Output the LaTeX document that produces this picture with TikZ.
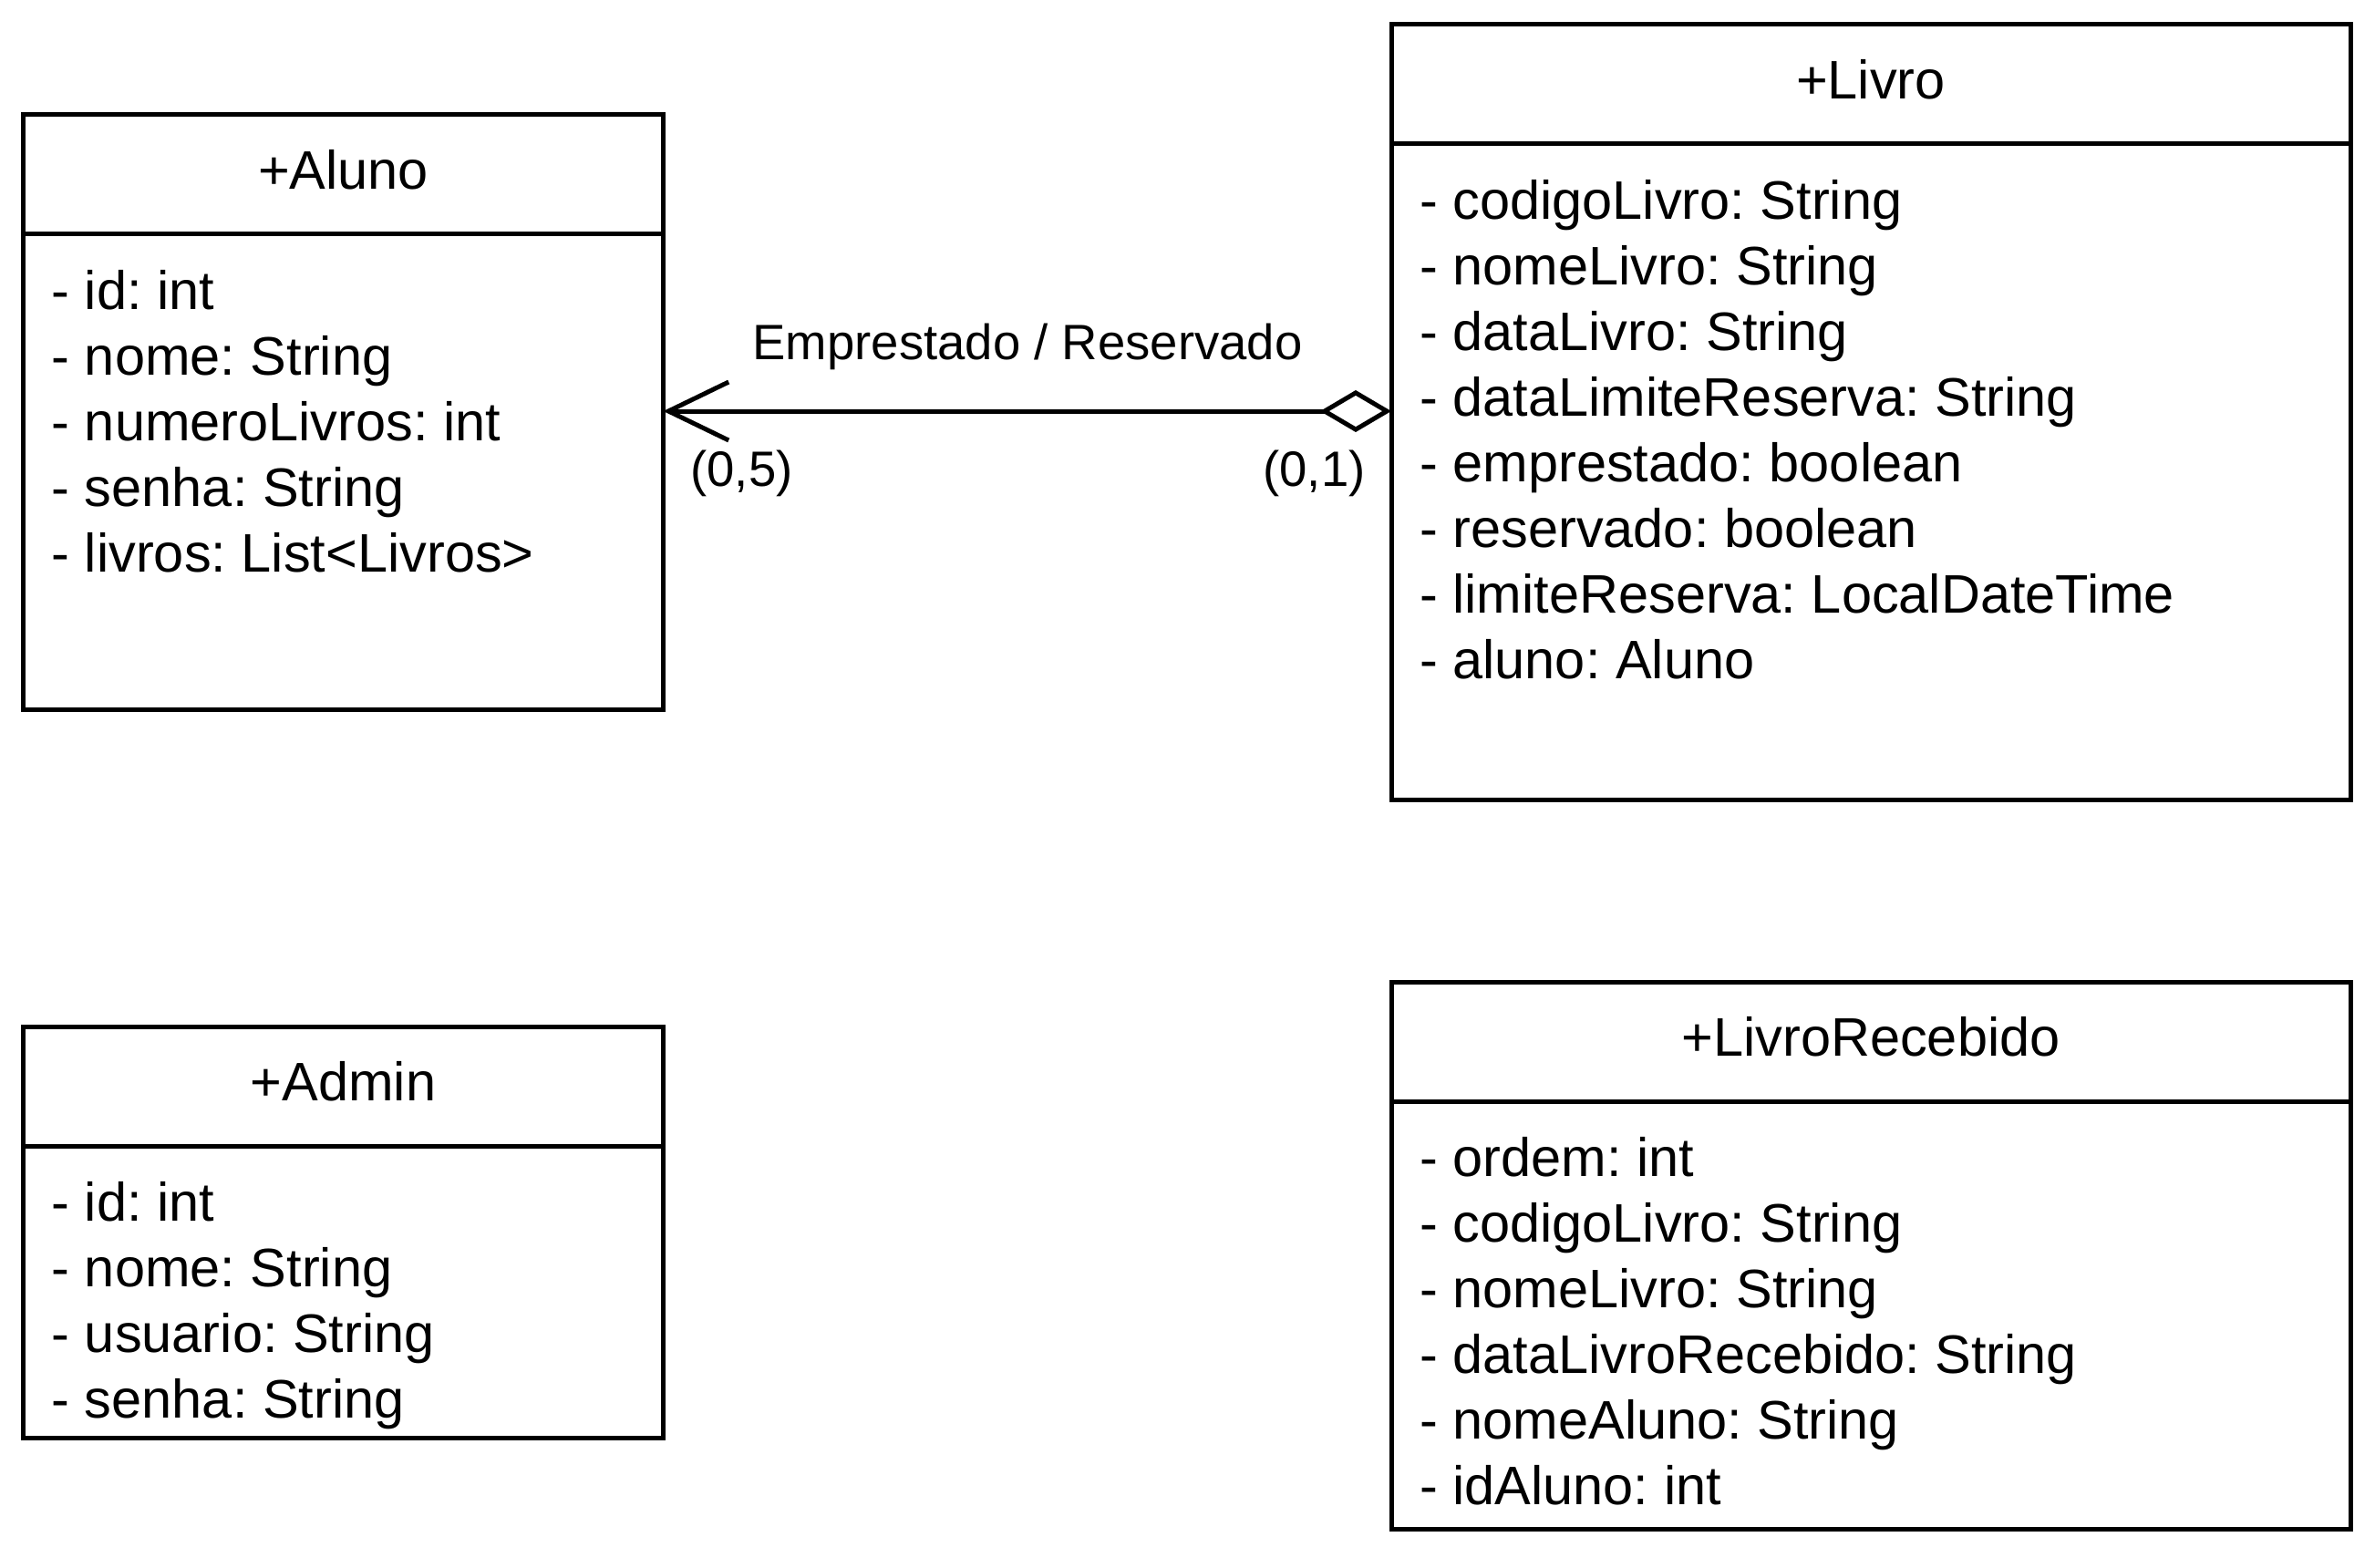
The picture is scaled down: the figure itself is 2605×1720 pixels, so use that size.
\documentclass[tikz,border=0pt]{standalone}
\usepackage{fontspec}
\setmainfont{Liberation Sans}
\usetikzlibrary{positioning,arrows.meta}
\frenchspacing
\newcommand{\attrfont}{\fontsize{59.5}{72}\selectfont}
\newcommand{\labelfont}{\fontsize{54.5}{64}\selectfont}
\tikzset{
  classhead/.style={draw, line width=5pt, rectangle, outer sep=0pt, inner sep=0pt,
    minimum height=131pt, text depth=12pt, font=\attrfont},
  classbody/.style={draw, line width=5pt, rectangle, outer sep=0pt, inner sep=0pt},
  attrs/.style={anchor=north west, inner sep=0pt, align=left, font=\attrfont},
  edgelabel/.style={inner sep=0pt, font=\labelfont},
  assoc/.style={line width=5pt,
    {Diamond[open,length=78pt,width=46pt]}-{Straight Barb[length=66pt,width=64pt]}}
}
\begin{document}
\begin{tikzpicture}[x=1pt, y=-1pt]
      \useasboundingbox (0,0) rectangle (2605,1720);
      % Aluno
      \node[classhead, minimum width=702pt] (aluno) at (376.5,191.5) {+Aluno};
      \node[classbody, minimum width=702pt, minimum height=521pt, below=0pt of aluno] (alunobody) {};
      \node[attrs] (alunoattrs) at ([xshift=31pt,yshift=-39pt]alunobody.north west)
        {- id: int\\- nome: String\\- numeroLivros: int\\- senha: String\\- livros: List<Livros>};
      % Livro
      \node[classhead, minimum width=1052pt] (livro) at (2052,92.5) {+Livro};
      \node[classbody, minimum width=1052pt, minimum height=719pt, below=0pt of livro] (livrobody) {};
      \node[attrs] (livroattrs) at ([xshift=31pt,yshift=-39pt]livrobody.north west)
        {- codigoLivro: String\\- nomeLivro: String\\- dataLivro: String\\- dataLimiteReserva: String\\
         - emprestado: boolean\\- reservado: boolean\\- limiteReserva: LocalDateTime\\- aluno: Aluno};
      % Admin
      \node[classhead, minimum width=702pt] (admin) at (376.5,1191.5) {+Admin};
      \node[classbody, minimum width=702pt, minimum height=320pt, below=0pt of admin] (adminbody) {};
      \node[attrs] (adminattrs) at ([xshift=31pt,yshift=-39pt]adminbody.north west)
        {- id: int\\- nome: String\\- usuario: String\\- senha: String};
      % LivroRecebido
      \node[classhead, minimum width=1052pt] (recebido) at (2052,1142.5) {+LivroRecebido};
      \node[classbody, minimum width=1052pt, minimum height=469pt, below=0pt of recebido] (recebidobody) {};
      \node[attrs] (recebidoattrs) at ([xshift=31pt,yshift=-39pt]recebidobody.north west)
        {- ordem: int\\- codigoLivro: String\\- nomeLivro: String\\- dataLivroRecebido: String\\
         - nomeAluno: String\\- idAluno: int};
      % Livro -> Aluno
      \draw[assoc] ([yshift=66.5pt]livrobody.west) -- ([yshift=66.5pt]livrobody.west -| alunobody.east);
      \node[edgelabel] (relacao) at (1127,380) {Emprestado / Reservado};
      \node[edgelabel] (multaluno) at (813.5,519) {(0,5)};
      \node[edgelabel] (multlivro) at (1441.5,519) {(0,1)};
    \end{tikzpicture}
\end{document}
